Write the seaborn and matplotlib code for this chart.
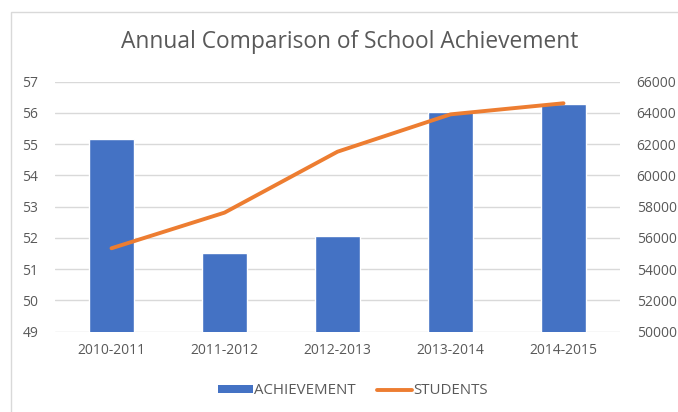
import matplotlib
matplotlib.use("Agg")
import matplotlib.pyplot as plt
from matplotlib.patches import Rectangle
from matplotlib.lines import Line2D
import seaborn as sns
import pandas as pd

seasons = ["2010-2011", "2011-2012", "2012-2013", "2013-2014", "2014-2015"]
achievement = [55.17, 51.53, 52.06, 56.04, 56.28]
students = [55340, 57620, 61520, 63910, 64620]
left_ticks = [49, 50, 51, 52, 53, 54, 55, 56, 57]
right_ticks = [50000, 52000, 54000, 56000, 58000, 60000, 62000, 64000, 66000]

BAR = "#4472C4"
LINE = "#ED7D31"
TEXT = "#595959"
GRID = "#D9D9D9"

sns.set_theme(style="white")
plt.rcParams["font.family"] = ["Open Sans", "DejaVu Sans"]

df = pd.DataFrame({"season": seasons, "achievement": achievement, "students": students})

fig = plt.figure(figsize=(6.78, 4.12), dpi=100)
ax = fig.add_axes([55 / 678, 1 - 331.7 / 412, 565 / 678, 250 / 412])

# chart frame
fig.patches.append(Rectangle((10.5 / 678, -0.1), 1.2, 1 - 12 / 412 + 0.1,
                             transform=fig.transFigure, fill=False,
                             edgecolor=GRID, linewidth=1.0, zorder=0))

sns.barplot(data=df, x="season", y="achievement", ax=ax, color=BAR,
            width=0.39, saturation=1, zorder=2)
ax.set_ylim(left_ticks[0], left_ticks[-1])
ax.set_yticks(left_ticks)
ax.set_xlim(-0.5, len(seasons) - 0.5)
ax.grid(axis="y", color=GRID, linewidth=1.0, zorder=0)
ax.set_axisbelow(True)
ax.set_xlabel("")
ax.set_ylabel("")
for s in ax.spines.values():
    s.set_visible(False)
ax.tick_params(axis="both", length=0, colors=TEXT, labelsize=10)
ax.tick_params(axis="y", pad=12)
ax.tick_params(axis="x", pad=8)

ax2 = ax.twinx()
sns.lineplot(data=df, x="season", y="students", ax=ax2, color=LINE,
             linewidth=2.8, zorder=3)
ax2.set_ylim(right_ticks[0], right_ticks[-1])
ax2.set_yticks(right_ticks)
ax2.set_ylabel("")
for s in ax2.spines.values():
    s.set_visible(False)
ax2.tick_params(axis="y", length=0, colors=TEXT, labelsize=10, pad=12)

fig.text(350 / 678, 1 - 42 / 412, "Annual Comparison of School Achievement",
         ha="center", va="center", fontsize=16.4, color=TEXT)

handles = [Rectangle((0, 0), 1, 1, facecolor=BAR, edgecolor="none"),
           Line2D([0], [0], color=LINE, linewidth=2.8)]
fig.legend(handles, ["ACHIEVEMENT", "STUDENTS"], loc="center",
           bbox_to_anchor=(353 / 678, 1 - 391 / 412), ncol=2, frameon=False,
           fontsize=10.8, labelcolor=TEXT, handlelength=2.35, handleheight=0.5,
           handletextpad=0.1, columnspacing=1.4)

fig.savefig("out.png", dpi=100)
